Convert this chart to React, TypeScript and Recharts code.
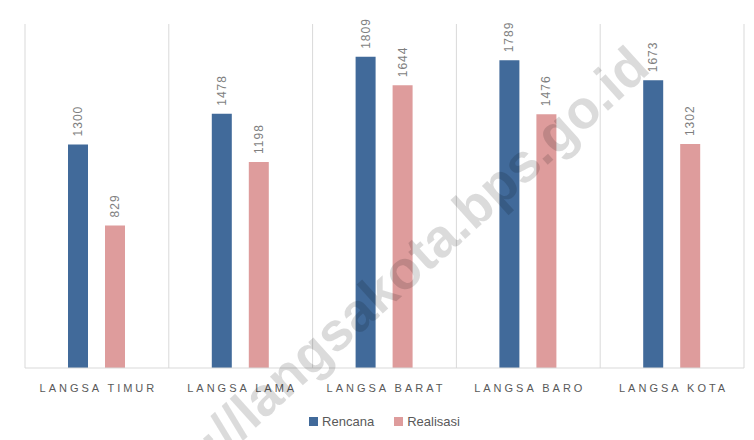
import { Bar, BarChart, CartesianGrid, LabelList, Legend, XAxis, YAxis } from "recharts";

const kecamatan = ["LANGSA TIMUR", "LANGSA LAMA", "LANGSA BARAT", "LANGSA BARO", "LANGSA KOTA"];
const rencana = [1300, 1478, 1809, 1789, 1673];
const realisasi = [829, 1198, 1644, 1476, 1302];
const seriesNames = ["Rencana", "Realisasi"];

const BLUE = "#416A9A";
const PINK = "#DE9C9C";
const GRID = "#d9d9d9";
const TEXT = "#595959";
const seriesColors = [BLUE, PINK];

const chartData = kecamatan.map((name, i) => ({
    name,
    rencana: rencana[i],
    realisasi: realisasi[i],
}));

const ValueLabel = (props: any) => {
    const { x, y, width, value } = props;
    const cx = x + width / 2;
    const ty = y - 8;
    return (
        <text
            x={cx}
            y={ty}
            transform={`rotate(-90, ${cx}, ${ty})`}
            textAnchor="start"
            dominantBaseline="central"
            fill="#7f7f7f"
            fontSize={12}
            letterSpacing={1}
            fontFamily="Liberation Sans, Arial, sans-serif">
            {value}
        </text>
    );
};

const CategoryTick = (props: any) => {
    const { x, y, payload } = props;
    return (
        <text
            x={x + 1.5}
            y={y + 20}
            textAnchor="middle"
            dominantBaseline="central"
            fill={TEXT}
            fontSize={11}
            letterSpacing={3}
            fontFamily="Liberation Sans, Arial, sans-serif">
            {payload.value}
        </text>
    );
};

const LegendBox = () => (
    <div style={{ height: 43, paddingTop: 6, boxSizing: "border-box", display: "flex", justifyContent: "center", gap: 20, fontFamily: "Liberation Sans, Arial, sans-serif", fontSize: 13, color: TEXT }}>
        {seriesNames.map((s, i) => (
            <span key={s} style={{ display: "flex", alignItems: "center", gap: 4 }}>
                <span style={{ width: 9, height: 9, background: seriesColors[i], display: "inline-block" }} />
                {s}
            </span>
        ))}
    </div>
);

export default function App() {
    return (
        <div style={{ position: "relative", marginLeft: -2, marginTop: -4, width: 748, height: 436, border: `1px solid ${GRID}`, borderRight: "none", borderBottom: "none", boxSizing: "border-box", background: "#fff" }}>
            <BarChart
                width={747}
                height={435}
                data={chartData}
                margin={{ top: 19, right: 10, left: 18, bottom: 0 }}
                barSize={20}
                barGap={17}>
                <CartesianGrid
                    horizontal={false}
                    stroke={GRID}
                    verticalCoordinatesGenerator={({ offset }: any) =>
                        kecamatan.map((_, i) => offset.left + (i * offset.width) / kecamatan.length).concat(offset.left + offset.width)
                    } />
                <XAxis
                    dataKey="name"
                    height={29}
                    tickLine={false}
                    tickSize={0}
                    tickMargin={0}
                    axisLine={{ stroke: GRID }}
                    tick={<CategoryTick />}
                    interval={0} />
                <YAxis hide domain={[0, 2000]} />
                <Legend verticalAlign="bottom" content={<LegendBox />} />
                <Bar dataKey="rencana" name="Rencana" fill={BLUE} isAnimationActive={false}>
                    <LabelList dataKey="rencana" content={<ValueLabel />} />
                </Bar>
                <Bar dataKey="realisasi" name="Realisasi" fill={PINK} isAnimationActive={false}>
                    <LabelList dataKey="realisasi" content={<ValueLabel />} />
                </Bar>
            </BarChart>
            <svg width={748} height={436} style={{ position: "absolute", left: 0, top: 0, pointerEvents: "none" }}>
                <text
                    x={645}
                    y={66}
                    transform="rotate(-42, 645, 66)"
                    textAnchor="end"
                    fill="rgba(0,0,0,0.14)"
                    fontSize={54}
                    fontWeight="bold"
                    fontFamily="Liberation Sans, Arial, sans-serif">
                    https://langsakota.bps.go.id
                </text>
            </svg>
        </div>
    );
}
